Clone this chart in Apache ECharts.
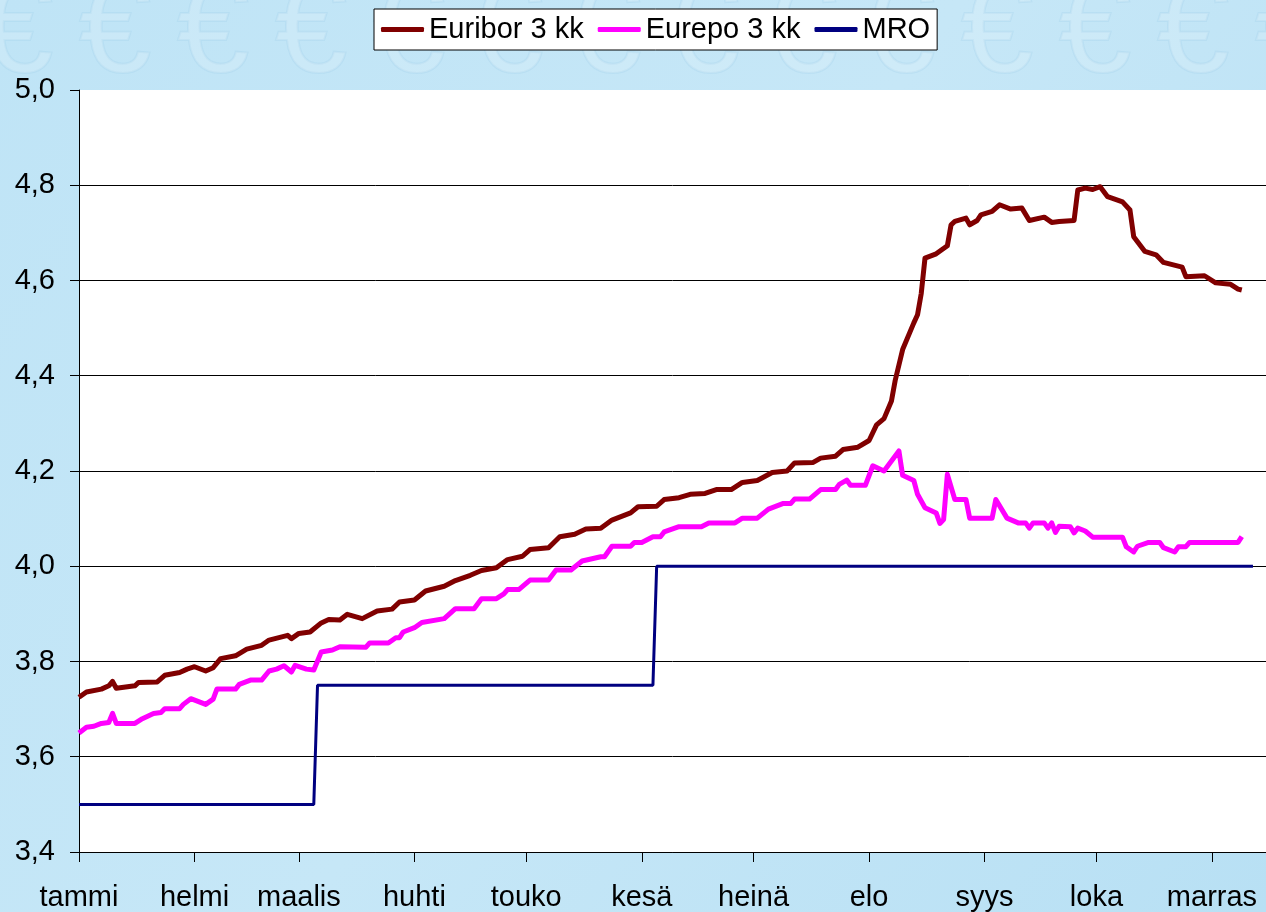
<!DOCTYPE html>
<html>
<head>
<meta charset="utf-8">
<title>Euribor, Eurepo ja MRO 2007</title>
<script src="https://cdn.jsdelivr.net/npm/echarts@6/dist/echarts.min.js"></script>
<style>
  html, body { margin: 0; padding: 0; }
  #chart { width: 1266px; height: 912px; }
</style>
</head>
<body>
<div id="chart"></div>
<script>
// kuukaudet x-akselille
const monthNames = ['tammi', 'helmi', 'maalis', 'huhti', 'touko', 'kesä', 'heinä', 'elo', 'syys', 'loka', 'marras', 'joulu']
const seriesNames = ['Euribor 3 kk', 'Eurepo 3 kk', 'MRO']

// [päivä (2007), korko %] luettu kuvasta
const euribor = [
  ['01-01', 3.725], ['01-03', 3.736], ['01-07', 3.742], ['01-09', 3.749], ['01-10', 3.758], ['01-11', 3.744],
  ['01-16', 3.749], ['01-17', 3.756], ['01-22', 3.757], ['01-24', 3.771], ['01-28', 3.777], ['01-30', 3.784],
  ['02-01', 3.789], ['02-04', 3.780], ['02-06', 3.787], ['02-08', 3.806], ['02-12', 3.812], ['02-15', 3.826],
  ['02-19', 3.834], ['02-21', 3.845], ['02-26', 3.855], ['02-27', 3.848],
  ['03-01', 3.859], ['03-04', 3.862], ['03-07', 3.881], ['03-09', 3.888], ['03-12', 3.887], ['03-14', 3.899],
  ['03-18', 3.890], ['03-22', 3.906], ['03-26', 3.910], ['03-28', 3.925],
  ['04-01', 3.929], ['04-04', 3.948], ['04-09', 3.958], ['04-12', 3.970], ['04-16', 3.981], ['04-19', 3.991],
  ['04-23', 3.997], ['04-26', 4.014], ['04-30', 4.021],
  ['05-02', 4.035], ['05-07', 4.039], ['05-10', 4.062], ['05-14', 4.067], ['05-17', 4.078], ['05-21', 4.080],
  ['05-24', 4.097], ['05-29', 4.112], ['05-31', 4.125],
  ['06-05', 4.126], ['06-07', 4.140], ['06-11', 4.144], ['06-14', 4.151], ['06-18', 4.153], ['06-21', 4.161],
  ['06-25', 4.161], ['06-28', 4.176],
  ['07-02', 4.180], ['07-06', 4.197], ['07-10', 4.200], ['07-12', 4.217], ['07-17', 4.218], ['07-19', 4.227],
  ['07-23', 4.231], ['07-25', 4.245], ['07-29', 4.250],
  ['08-01', 4.264], ['08-03', 4.297], ['08-05', 4.310], ['08-07', 4.347], ['08-08', 4.390], ['08-10', 4.455],
  ['08-13', 4.511], ['08-14', 4.528], ['08-15', 4.573], ['08-16', 4.647], ['08-19', 4.656], ['08-22', 4.673],
  ['08-23', 4.717], ['08-24', 4.724], ['08-27', 4.731], ['08-28', 4.717], ['08-30', 4.726], ['08-31', 4.738],
  ['09-03', 4.745], ['09-05', 4.759], ['09-08', 4.750], ['09-11', 4.752], ['09-13', 4.726], ['09-17', 4.733],
  ['09-19', 4.722], ['09-21', 4.724], ['09-25', 4.726], ['09-26', 4.790], ['09-28', 4.794], ['09-30', 4.791],
  ['10-02', 4.797], ['10-04', 4.776], ['10-08', 4.765], ['10-10', 4.748], ['10-11', 4.692], ['10-14', 4.661],
  ['10-17', 4.654], ['10-19', 4.638], ['10-24', 4.628], ['10-25', 4.608], ['10-30', 4.610],
  ['11-02', 4.595], ['11-06', 4.592], ['11-08', 4.582], ['11-09', 4.580]
]

const eurepo = [
  ['01-01', 3.650], ['01-03', 3.662], ['01-05', 3.664], ['01-07', 3.670], ['01-09', 3.672], ['01-10', 3.691],
  ['01-11', 3.670], ['01-16', 3.670], ['01-18', 3.680], ['01-21', 3.691], ['01-23', 3.693], ['01-24', 3.701],
  ['01-28', 3.701], ['01-29', 3.710], ['01-31', 3.722],
  ['02-04', 3.710], ['02-06', 3.721], ['02-07', 3.742], ['02-12', 3.742], ['02-13', 3.752], ['02-16', 3.761],
  ['02-19', 3.761], ['02-21', 3.780], ['02-23', 3.784], ['02-25', 3.791], ['02-27', 3.778], ['02-28', 3.792],
  ['03-03', 3.784], ['03-05', 3.782], ['03-06', 3.801], ['03-07', 3.820], ['03-10', 3.824], ['03-12', 3.831],
  ['03-19', 3.830], ['03-20', 3.839], ['03-25', 3.839], ['03-27', 3.850], ['03-28', 3.850], ['03-29', 3.862],
  ['04-01', 3.871], ['04-03', 3.882], ['04-09', 3.890], ['04-12', 3.911], ['04-17', 3.911], ['04-19', 3.932],
  ['04-23', 3.932], ['04-25', 3.942], ['04-26', 3.951], ['04-29', 3.951],
  ['05-02', 3.971], ['05-07', 3.971], ['05-09', 3.992], ['05-13', 3.992], ['05-16', 4.011], ['05-21', 4.020],
  ['05-22', 4.020], ['05-24', 4.042], ['05-29', 4.042], ['05-30', 4.050],
  ['06-01', 4.050], ['06-04', 4.062], ['06-06', 4.062], ['06-07', 4.072], ['06-11', 4.083], ['06-17', 4.083],
  ['06-19', 4.091], ['06-26', 4.091], ['06-28', 4.101],
  ['07-02', 4.101], ['07-05', 4.120], ['07-09', 4.132], ['07-11', 4.132], ['07-12', 4.141], ['07-16', 4.141],
  ['07-19', 4.161], ['07-23', 4.161], ['07-24', 4.172], ['07-26', 4.181], ['07-27', 4.170], ['07-31', 4.170],
  ['08-02', 4.211], ['08-05', 4.200], ['08-09', 4.242], ['08-10', 4.191], ['08-13', 4.180], ['08-14', 4.151],
  ['08-16', 4.123], ['08-19', 4.112], ['08-20', 4.090], ['08-21', 4.098], ['08-22', 4.193], ['08-24', 4.140],
  ['08-27', 4.140], ['08-28', 4.101],
  ['09-03', 4.101], ['09-04', 4.140], ['09-07', 4.101], ['09-10', 4.091], ['09-12', 4.091], ['09-13', 4.080],
  ['09-14', 4.091], ['09-17', 4.091], ['09-18', 4.080], ['09-19', 4.091], ['09-20', 4.071], ['09-21', 4.084],
  ['09-24', 4.083], ['09-25', 4.070], ['09-26', 4.080], ['09-28', 4.074], ['09-30', 4.061],
  ['10-08', 4.061], ['10-09', 4.041], ['10-11', 4.030], ['10-12', 4.042], ['10-15', 4.050], ['10-18', 4.050],
  ['10-19', 4.039], ['10-22', 4.030], ['10-23', 4.041], ['10-25', 4.041], ['10-26', 4.050],
  ['11-08', 4.050], ['11-09', 4.062]
]

// EKP:n perusrahoitusoperaatioiden korko
const mro = [
  ['01-01', 3.50], ['03-05', 3.50], ['03-06', 3.75], ['06-04', 3.75], ['06-05', 4.00], ['11-12', 4.00]
]

const toPoint = p => ['2007-' + p[0], p[1]]
const font = 'Arial, "Liberation Sans", sans-serif'
const DAY = 24 * 3600 * 1000

const myChart = echarts.init(document.getElementById('chart'))

// taustan €-merkit (koriste)
const euroMarks = []
for (let i = 0; i < 14; i++) {
  euroMarks.push({
    type: 'text',
    left: -20 + i * 98,
    top: -30,
    silent: true,
    z: -1,
    style: {
      text: '€',
      fontSize: 130,
      fontFamily: font,
      fill: 'rgba(255,255,255,0.16)',
      stroke: 'rgba(140,195,225,0.18)',
      lineWidth: 2
    }
  })
}

const option = {
  animation: false,
  backgroundColor: {
    type: 'linear', x: 0, y: 0, x2: 1, y2: 1,
    colorStops: [
      { offset: 0, color: '#bfe4f6' },
      { offset: 0.5, color: '#c6e7f7' },
      { offset: 1, color: '#b8e0f4' }
    ]
  },
  graphic: euroMarks,
  legend: {
    data: seriesNames,
    left: 374,
    top: 9,
    padding: [6, 7],
    backgroundColor: '#fff',
    borderColor: '#000',
    borderWidth: 1,
    borderRadius: 0,
    icon: 'roundRect',
    itemWidth: 43,
    itemHeight: 5,
    itemGap: 14,
    textStyle: { fontSize: 29, color: '#000', fontFamily: font }
  },
  grid: {
    left: 79,
    right: 0,
    top: 90,
    bottom: 59,
    show: true,
    backgroundColor: '#fff',
    borderWidth: 0
  },
  xAxis: {
    type: 'time',
    min: +new Date(2007, 0, 1),
    max: +new Date(2007, 10, 15, 12),
    minInterval: 28 * DAY,
    maxInterval: 31 * DAY,
    axisLine: { lineStyle: { color: '#000', width: 1 } },
    axisTick: { show: true, length: 10, lineStyle: { color: '#000' } },
    splitLine: { show: false },
    axisLabel: {
      fontSize: 29,
      color: '#000',
      fontFamily: font,
      margin: 31,
      formatter: function(value) {
        return monthNames[new Date(value).getMonth()]
      }
    }
  },
  yAxis: {
    type: 'value',
    min: 3.4,
    max: 5.0,
    interval: 0.2,
    axisLine: { show: true, lineStyle: { color: '#000', width: 1 } },
    axisTick: { show: true, length: 9, lineStyle: { color: '#000' } },
    splitLine: { show: true, showMaxLine: false, lineStyle: { color: '#000', width: 1 } },
    axisLabel: {
      fontSize: 29,
      color: '#000',
      fontFamily: font,
      margin: 24,
      formatter: function(v) {
        return v.toFixed(1).replace('.', ',')
      }
    }
  },
  series: [
    {
      name: seriesNames[0],
      type: 'line',
      symbol: 'none',
      data: euribor.map(toPoint),
      itemStyle: { color: '#800000' },
      lineStyle: { color: '#800000', width: 5, join: 'round' },
      z: 4
    },
    {
      name: seriesNames[1],
      type: 'line',
      symbol: 'none',
      data: eurepo.map(toPoint),
      itemStyle: { color: '#ff00ff' },
      lineStyle: { color: '#ff00ff', width: 5, join: 'round' },
      z: 3
    },
    {
      name: seriesNames[2],
      type: 'line',
      symbol: 'none',
      data: mro.map(toPoint),
      itemStyle: { color: '#000080' },
      lineStyle: { color: '#000080', width: 3 },
      z: 2
    }
  ]
}

myChart.setOption(option)
</script>
</body>
</html>
